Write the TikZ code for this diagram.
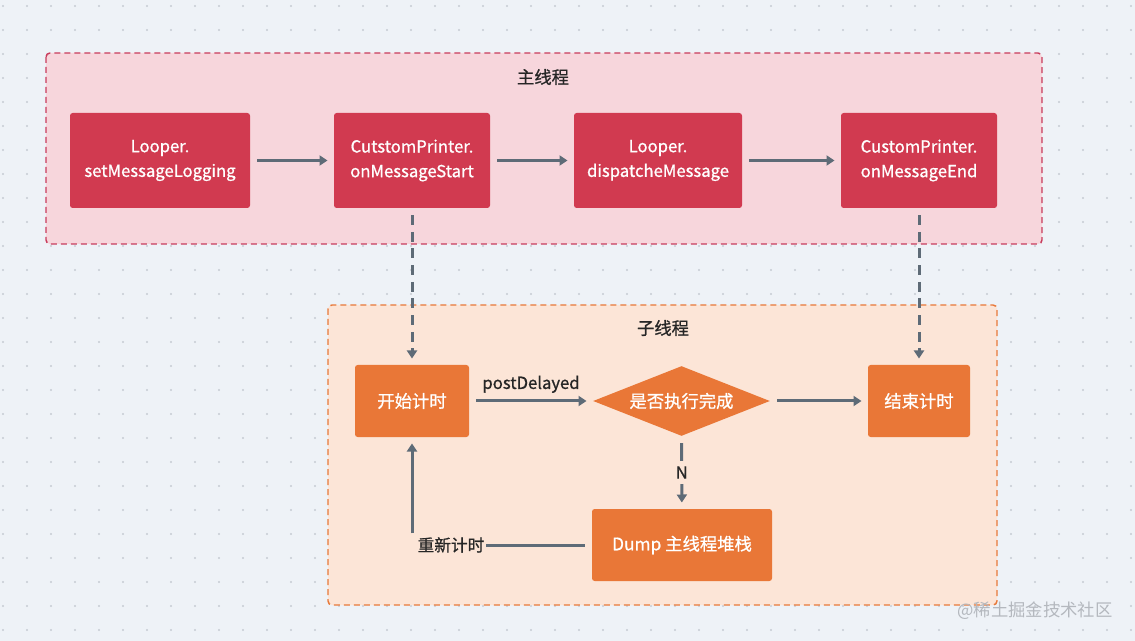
\documentclass[tikz,border=0pt]{standalone}
\usepackage{fontspec}
\setmainfont{Noto Sans CJK SC}
\newfontfamily\medfont{Noto Sans CJK SC}[FakeBold=0.9]
\usetikzlibrary{arrows.meta,shapes.geometric}
\definecolor{bgcol}{HTML}{EEF2F7}
\definecolor{dotcol}{HTML}{C6CBD3}
\definecolor{mainfill}{HTML}{F7D6DC}
\definecolor{mainline}{HTML}{C83C5C}
\definecolor{boxred}{HTML}{D13A50}
\definecolor{subfill}{HTML}{FCE5D7}
\definecolor{subline}{HTML}{E8793A}
\definecolor{boxorange}{HTML}{E97737}
\definecolor{arrowgray}{HTML}{5E6B77}
\definecolor{markgray}{HTML}{B4B8BE}

\tikzset{every picture/.style={line width=0.75pt}}
\tikzset{
  redbox/.style={fill=boxred, text=white, rounded corners=2pt, align=center, inner sep=0pt,
    minimum height=71.25pt, font=\medfont\fontsize{12.5}{18.5}\selectfont},
  orangebox/.style={fill=boxorange, text=white, rounded corners=2pt, align=center, inner sep=0pt,
    minimum height=54pt, font=\medfont\fontsize{13}{16}\selectfont},
  decide/.style={diamond, fill=boxorange, text=white, inner sep=0pt, aspect=2.5,
    minimum width=132.75pt, minimum height=52.5pt, font=\medfont\fontsize{13}{16}\selectfont},
  thread/.style={dashed, dash pattern=on 4.5pt off 3pt, line width=1.1pt, rounded corners=3pt},
  title/.style={font=\medfont\fontsize{13}{16}\selectfont, text=black!85},
  flow/.style={draw=arrowgray, line width=2.25pt, -{Triangle[width=7.5pt,length=6pt]},
    shorten <=5pt, shorten >=4.5pt},
  callback/.style={flow, dash pattern=on 7.5pt off 5pt},
  lbl/.style={font=\medfont\fontsize{12.5}{15}\selectfont, text=black!85, inner sep=1pt}
}

\begin{document}
\begin{tikzpicture}[x=0.75pt,y=0.75pt,yscale=-1]
  \fill[bgcol] (0,0) rectangle (1135,641);
  \useasboundingbox (0,0) rectangle (1135,641);
  \foreach \i in {3,27,...,1131} {
    \foreach \j in {6,30,...,638} {
      \fill[dotcol] (\i,\j) circle (0.85pt);
    }
  }

  \draw[thread, draw=mainline, fill=mainfill] (46,53) rectangle (1042,244);
  \draw[thread, draw=subline, fill=subfill] (328,305) rectangle (997,605);
  \node[title] (maintitle) at (543,77) {主线程};
  \node[title] (subtitle) at (663,328) {子线程};

  \node[redbox, minimum width=135pt] (setlog) at (160,160.5) {Looper.\\setMessageLogging};
  \node[redbox, minimum width=117pt] (onstart) at (412,160.5) {CutstomPrinter.\\onMessageStart};
  \node[redbox, minimum width=126pt] (dispatch) at (658,160.5) {Looper.\\dispatcheMessage};
  \node[redbox, minimum width=117pt] (onend) at (919,160.5) {CustomPrinter.\\onMessageEnd};

  \node[orangebox, minimum width=85.5pt] (starttimer) at (412,401) {开始计时};
  \node[decide] (done) at (681.5,401) {是否执行完成};
  \node[orangebox, minimum width=76.5pt] (stoptimer) at (919,401) {结束计时};
  \node[orangebox, minimum width=135pt] (dump) at (682,545) {Dump 主线程堆栈};
  \node[lbl, fill=subfill] (restart) at (451,545) {重新计时};

  \draw[flow] (setlog) -- (onstart);
  \draw[flow] (onstart) -- (dispatch);
  \draw[flow] (dispatch) -- (onend);
  \draw[callback] (onstart) -- (starttimer);
  \draw[callback] (onend) -- (stoptimer);
  \draw[flow] (starttimer) -- node[lbl, above=4pt] (delay) {postDelayed} (done);
  \draw[flow] (done) -- (stoptimer);
  \draw[flow] (done) -- node[lbl, fill=subfill, inner sep=4pt] (no) {N} (dump);
  \draw[draw=arrowgray, line width=2.25pt, shorten <=5pt] (dump.west) -- (dump.west -| restart.east);
  \draw[flow, shorten <=0pt] (restart.north -| starttimer.south) ++(0,-2) -- (starttimer.south);

  \node[font=\fontsize{13}{16}\selectfont, text=markgray] (mark) at (1035,611) {@稀土掘金技术社区};
\end{tikzpicture}
\end{document}
